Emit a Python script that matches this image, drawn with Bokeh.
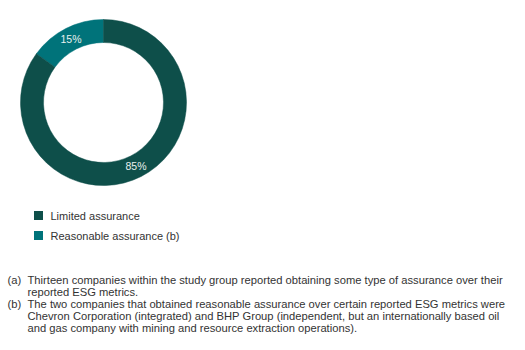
import math
from bokeh.plotting import figure
from bokeh.models import ColumnDataSource, Range1d
from bokeh.core.properties import value
from bokeh.embed import file_html
from bokeh.resources import INLINE

categories = ["Reasonable assurance (b)", "Limited assurance"]
shares = [15, 85]
colors = ["#00737a", "#0e4f4a"]
legend_labels = ["Limited assurance", "Reasonable assurance (b)"]
legend_colors = ["#0e4f4a", "#00737a"]
footnotes = [
    ("(a)", ["Thirteen companies within the study group reported obtaining some type of assurance over their",
             "reported ESG metrics."]),
    ("(b)", ["The two companies that obtained reasonable assurance over certain reported ESG metrics were",
             "Chevron Corporation (integrated) and BHP Group (independent, but an internationally based oil",
             "and gas company with mining and resource extraction operations)."]),
]

W, H = 525, 350
FONT = "Liberation Sans"

p = figure(width=W, height=H, output_backend="svg", toolbar_location=None,
           x_range=Range1d(0, W), y_range=Range1d(0, H), min_border=0)
p.axis.visible = False
p.grid.visible = False
p.outline_line_color = None
p.background_fill_color = "white"
p.border_fill_color = "white"

cx, cy = 103, H - 102
r_in, r_out = 60, 83

total = sum(shares)
starts, ends, lx, ly, texts = [], [], [], [], []
a = math.pi / 2
for s in shares:
    da = 2 * math.pi * s / total
    starts.append(a)
    ends.append(a + da)
    mid = a + da / 2
    rm = (r_in + r_out) / 2
    lx.append(cx + rm * math.cos(mid))
    ly.append(cy + rm * math.sin(mid))
    texts.append(f"{s}%")
    a += da

src = ColumnDataSource(dict(start=starts, end=ends, color=colors, lx=lx, ly=ly, t=texts))
p.annular_wedge(x=cx, y=cy, inner_radius=r_in, outer_radius=r_out,
                start_angle="start", end_angle="end", direction="anticlock",
                fill_color="color", line_color="color", line_width=0.5, source=src)
p.text(x="lx", y="ly", text="t", source=src, text_color="#e8f0ee",
       text_font=value(FONT), text_font_size="10.5px",
       text_align="center", text_baseline="middle")

# legend
ly0 = H - 215
for i, (lab, col) in enumerate(zip(legend_labels, legend_colors)):
    yy = ly0 - i * 20
    p.rect(x=[38], y=[yy], width=9, height=9, fill_color=col, line_color=None)
    p.text(x=[50], y=[yy], text=[lab], text_color="#333333",
           text_font=value(FONT), text_font_size="11px",
           text_align="left", text_baseline="middle")

# footnotes
fy = H - 279
for tag, lines in footnotes:
    p.text(x=[7], y=[fy], text=[tag], text_color="#333333",
           text_font=value(FONT), text_font_size="11.2px",
           text_align="left", text_baseline="middle")
    for ln in lines:
        p.text(x=[27], y=[fy], text=[ln], text_color="#333333",
               text_font=value(FONT), text_font_size="11.2px",
               text_align="left", text_baseline="middle")
        fy -= 12

open("out.html", "w").write(file_html(p, INLINE))
